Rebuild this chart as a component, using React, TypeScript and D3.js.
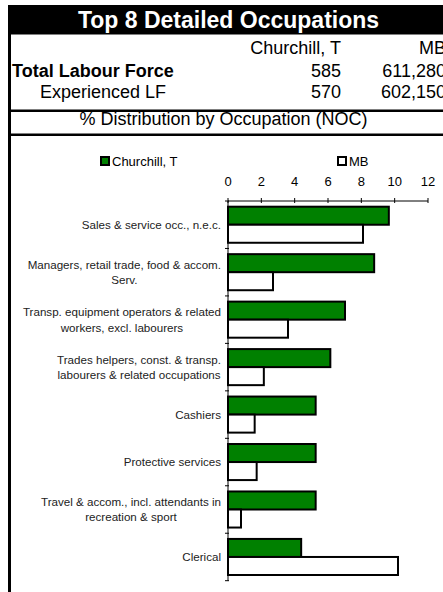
import React, { useEffect, useRef } from "react";
import * as d3 from "d3";

const categories: string[][] = [
  ["Sales & service occ., n.e.c."],
  ["Managers, retail trade, food & accom.", "Serv."],
  ["Transp. equipment operators & related", "workers, excl. labourers"],
  ["Trades helpers, const. & transp.", "labourers & related occupations"],
  ["Cashiers"],
  ["Protective services"],
  ["Travel & accom., incl. attendants in", "recreation & sport"],
  ["Clerical"],
];
const churchill: number[] = [9.65, 8.77, 7.02, 6.14, 5.26, 5.26, 5.26, 4.39];
const mb: number[] = [8.1, 2.7, 3.6, 2.15, 1.6, 1.72, 0.78, 10.2];
const seriesNames: string[] = ["Churchill, T", "MB"];
const seriesColors: string[] = ["#008000", "#ffffff"];
const xTicks: number[] = [0, 2, 4, 6, 8, 10, 12];
const title = "Top 8 Detailed Occupations";
const tableCols: string[] = ["Churchill, T", "MB"];
const tableRows: { label: string; values: string[]; bold: boolean }[] = [
  { label: "Total Labour Force", values: ["585", "611,280"], bold: true },
  { label: "Experienced LF", values: ["570", "602,150"], bold: false },
];
const subtitle = "% Distribution by Occupation (NOC)";

const W = 443;
const H = 592;
const FONT = "'Liberation Sans', Arial, sans-serif";

export default function App() {
  const ref = useRef<SVGSVGElement>(null);

  useEffect(() => {
    const svg = d3.select(ref.current);
    svg.selectAll("*").remove();

    // Header
    svg.append("rect").attr("x", 8).attr("y", 5).attr("width", W - 8).attr("height", 29.5).attr("fill", "#000");
    svg.append("text").attr("x", 228.5).attr("y", 28).attr("text-anchor", "middle")
      .attr("fill", "#fff").attr("font-weight", "bold").attr("font-size", 23).attr("font-family", FONT).text(title);

    // left border
    svg.append("rect").attr("x", 8).attr("y", 5).attr("width", 3).attr("height", H - 5).attr("fill", "#000");

    // table
    const colX = [341, 446];
    tableCols.forEach((c, i) => {
      svg.append("text").attr("x", colX[i]).attr("y", 54).attr("text-anchor", "end")
        .attr("font-size", 18).attr("font-family", FONT).text(c);
    });
    const rowY = [77, 98];
    tableRows.forEach((r, ri) => {
      svg.append("text").attr("x", r.bold ? 12 : 40).attr("y", rowY[ri])
        .attr("font-size", 18).attr("font-weight", r.bold ? "bold" : "normal").attr("font-family", FONT).text(r.label);
      r.values.forEach((v, i) => {
        svg.append("text").attr("x", colX[i]).attr("y", rowY[ri]).attr("text-anchor", "end")
          .attr("font-size", 18).attr("font-family", FONT).text(v);
      });
    });
    svg.append("rect").attr("x", 8).attr("y", 109.5).attr("width", W - 8).attr("height", 2.5).attr("fill", "#000");
    svg.append("text").attr("x", 223.5).attr("y", 125).attr("text-anchor", "middle")
      .attr("font-size", 18).attr("font-family", FONT).text(subtitle);
    svg.append("rect").attr("x", 8).attr("y", 133.5).attr("width", W - 8).attr("height", 2.5).attr("fill", "#000");

    // legend
    const legX = [100, 337];
    seriesNames.forEach((s, i) => {
      svg.append("rect").attr("x", legX[i] + 1).attr("y", 157).attr("width", 8).attr("height", 8)
        .attr("fill", seriesColors[i]).attr("stroke", "#000").attr("stroke-width", 2);
      svg.append("text").attr("x", legX[i] + 12).attr("y", 165.5)
        .attr("font-size", 13).attr("font-family", FONT).text(s);
    });

    // scales
    const x = d3.scaleLinear().domain([0, 12]).range([228, 428]);
    const idx = categories.map((_, i) => String(i));
    const y = d3.scaleBand().domain(idx).range([201, 580.7]).paddingInner(0).paddingOuter(0);
    const sub = d3.scaleBand().domain(["0", "1"]).range([5.7, y.bandwidth() - 5.7]).padding(0);

    // x axis (top)
    const gx = svg.append("g");
    gx.append("line").attr("x1", x(0)).attr("x2", x(12)).attr("y1", 201).attr("y2", 201).attr("stroke", "#000").attr("stroke-width", 1);
    xTicks.forEach((t) => {
      gx.append("line").attr("x1", x(t)).attr("x2", x(t)).attr("y1", 198).attr("y2", 203).attr("stroke", "#000").attr("stroke-width", 1);
      gx.append("text").attr("x", x(t)).attr("y", 186).attr("text-anchor", "middle")
        .attr("font-size", 13).attr("font-family", FONT).text(String(t));
    });

    // bars
    const g = svg.append("g");
    categories.forEach((_, i) => {
      const y0 = y(String(i))!;
      [churchill[i], mb[i]].forEach((v, s) => {
        g.append("rect").attr("x", x(0)).attr("y", y0 + sub(String(s))!)
          .attr("width", x(v) - x(0)).attr("height", sub.bandwidth())
          .attr("fill", seriesColors[s]).attr("stroke", "#000").attr("stroke-width", 2);
      });
    });

    // y axis
    const gy = svg.append("g");
    gy.append("line").attr("x1", x(0)).attr("x2", x(0)).attr("y1", 201).attr("y2", 580.7).attr("stroke", "#000").attr("stroke-width", 1);
    for (let i = 0; i <= categories.length; i++) {
      const yy = i < categories.length ? y(String(i))! : 580.7;
      gy.append("line").attr("x1", x(0) - 3).attr("x2", x(0) + 1).attr("y1", yy).attr("y2", yy).attr("stroke", "#000").attr("stroke-width", 1);
    }

    // category labels: block right-aligned, lines centered
    const lh = 15.5;
    categories.forEach((lines, i) => {
      const cy = y(String(i))! + y.bandwidth() / 2;
      const grp = gy.append("g");
      const texts = lines.map((ln, k) =>
        grp.append("text").attr("y", cy - ((lines.length - 1) * lh) / 2 + k * lh + 4.2)
          .attr("font-size", 11.6).attr("font-family", FONT).attr("fill", "#222").attr("text-anchor", "middle").text(ln)
      );
      const widths = texts.map((t) => (t.node() as SVGTextElement).getComputedTextLength());
      const maxW = Math.max(...widths);
      const rightEdge = 221;
      texts.forEach((t) => t.attr("x", rightEdge - maxW / 2));
    });
  }, []);

  return (
    <svg ref={ref} width={W} height={H} style={{ position: "absolute", left: 0, top: 0, background: "#fff" }} />
  );
}
